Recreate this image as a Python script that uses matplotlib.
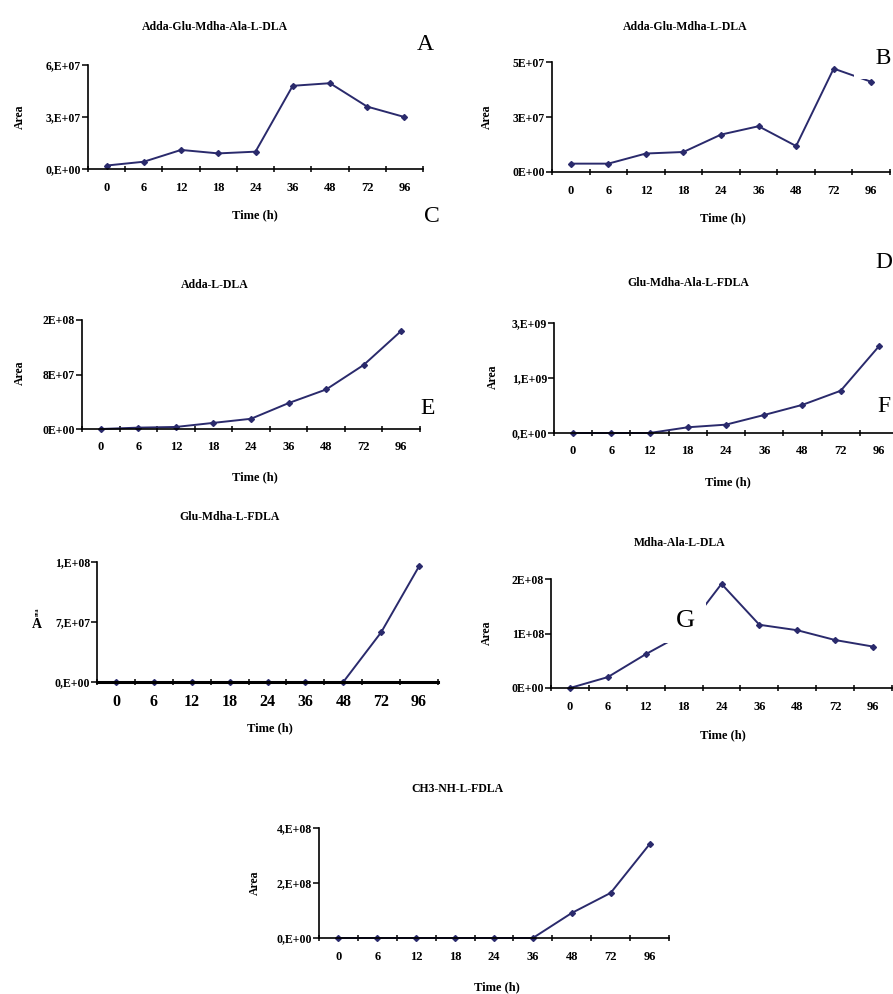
import numpy as np
import matplotlib.pyplot as plt

plt.rcParams['font.family'] = ['Liberation Serif', 'DejaVu Serif']

W, H = 893, 994
fig = plt.figure(figsize=(W / 100, H / 100), dpi=100)

# data (Area vs time)
time_labels = ['0', '6', '12', '18', '24', '36', '48', '72', '96']

adda_glu_mdha_ala = [2.0e6, 4.2e6, 1.10e7, 9.0e6, 1.0e7, 4.8e7, 4.95e7, 3.6e7, 3.0e7]
adda_glu_mdha = [3.8e6, 3.8e6, 8.4e6, 9.1e6, 1.7e7, 2.08e7, 1.18e7, 4.7e7, 4.1e7]
adda = [0.0, 2.0e6, 3.0e6, 9.0e6, 1.5e7, 3.8e7, 5.8e7, 9.4e7, 1.44e8]
glu_mdha_ala = [0.0, 0.0, 0.0, 1.3e8, 1.9e8, 4.1e8, 6.4e8, 9.6e8, 1.97e9]
glu_mdha = [0.0, 0.0, 0.0, 0.0, 0.0, 0.0, 0.0, 5.8e7, 1.35e8]
mdha_ala = [0.0, 2.0e7, 6.2e7, 1.0e8, 1.91e8, 1.16e8, 1.06e8, 8.8e7, 7.6e7]
ch3_nh = [0.0, 0.0, 0.0, 0.0, 0.0, 0.0, 9.1e7, 1.64e8, 3.41e8]

# y ticks and the labels as printed
a_ticks, a_labels = [0, 3e7, 6e7], ['0,E+00', '3,E+07', '6,E+07']
b_ticks, b_labels = [0, 2.5e7, 5e7], ['0E+00', '3E+07', '5E+07']
c_ticks, c_labels = [0, 8e7, 1.6e8], ['0E+00', '8E+07', '2E+08']
d_ticks, d_labels = [0, 1.25e9, 2.5e9], ['0,E+00', '1,E+09', '3,E+09']
e_ticks, e_labels = [0, 7e7, 1.4e8], ['0,E+00', '7,E+07', '1,E+08']
g_ticks, g_labels = [0, 1e8, 2e8], ['0E+00', '1E+08', '2E+08']
h_ticks, h_labels = [0, 2e8, 4e8], ['0,E+00', '2,E+08', '4,E+08']

navy = '#2a2a6c'


def ftext(x, y, s, ha='center', **kw):
    # place text using pixel coords (top-left origin)
    return fig.text(x / W, 1 - y / H, s, ha=ha, va='center', **kw)


def panel(box, vals, yt, yl, title, title_xy, xlab_xy, ylab_xy, fs=9, axis_lw=1.2):
    l, r, t, b = box
    ax = fig.add_axes([l / W, 1 - b / H, (r - l) / W, (b - t) / H])
    x = np.arange(len(vals))
    ax.plot(x, vals, color=navy, lw=1.4, marker='D', ms=3, clip_on=False)
    ax.set_xlim(-0.5, len(vals) - 0.5)
    ax.set_ylim(0, yt[-1])
    ax.set_xticks(x)
    ax.set_xticklabels(time_labels, fontsize=fs, fontweight='bold')
    ax.set_xticks(np.arange(len(vals) + 1) - 0.5, minor=True)
    ax.tick_params(axis='x', which='major', length=0, pad=9)
    ax.tick_params(axis='x', which='minor', length=4, width=1.1, direction='inout')
    ax.set_yticks(yt)
    ax.set_yticklabels(yl, fontsize=8.5, fontweight='bold')
    ax.tick_params(axis='y', length=4, width=1.1, pad=1)
    for s in ['top', 'right']:
        ax.spines[s].set_visible(False)
    ax.spines['left'].set_linewidth(1.2)
    ax.spines['bottom'].set_linewidth(axis_lw)
    ax.patch.set_alpha(0)
    ftext(*title_xy, title, fontsize=8.5, fontweight='bold')
    ftext(*xlab_xy, 'Time (h)', fontsize=9, fontweight='bold')
    if ylab_xy is not None:
        ftext(*ylab_xy, 'Area', fontsize=8.5, fontweight='bold', rotation=90)
    return ax


panel((88, 423, 65, 169), adda_glu_mdha_ala, a_ticks, a_labels,
      'Adda-Glu-Mdha-Ala-L-DLA', (215, 27), (255, 215), (20, 117))
panel((552, 890, 62, 172), adda_glu_mdha, b_ticks, b_labels,
      'Adda-Glu-Mdha-L-DLA', (685, 27), (723, 218), (487, 117))
panel((82, 420, 320, 429), adda, c_ticks, c_labels,
      'Adda-L-DLA', (215, 285), (255, 477), (20, 373))
panel((554, 898, 323, 433), glu_mdha_ala, d_ticks, d_labels,
      'Glu-Mdha-Ala-L-FDLA', (688, 283), (728, 482), (493, 377))
panel((97, 438, 562, 682), glu_mdha, e_ticks, e_labels,
      'Glu-Mdha-L-FDLA', (230, 517), (270, 728), None, fs=11.5, axis_lw=2.2)
panel((551, 892, 579, 688), mdha_ala, g_ticks, g_labels,
      'Mdha-Ala-L-DLA', (680, 543), (723, 735), (487, 633))
panel((319, 669, 828, 938), ch3_nh, h_ticks, h_labels,
      'CH3-NH-L-FDLA', (457, 789), (497, 987), (255, 883))

# odd y label of the Glu-Mdha-L-FDLA panel
ftext(37, 625, 'A', fontsize=10, fontweight='bold')
ftext(37, 612, 'rea', fontsize=4.5, fontweight='bold', rotation=90)

# panel letters
big = dict(fontsize=17)
ftext(425, 45, 'A', **big)
ftext(864, 59, '  B', ha='left',
      bbox=dict(facecolor='white', edgecolor='none', pad=7), **big)
ftext(432, 217, 'C', **big)
ftext(884, 262, 'D', **big)
ftext(428, 408, 'E', **big)
ftext(884, 407, 'F', **big)
ftext(685, 621, 'G', fontsize=19,
      bbox=dict(facecolor='white', edgecolor='none', pad=8))

fig.savefig('out.png', dpi=100)
